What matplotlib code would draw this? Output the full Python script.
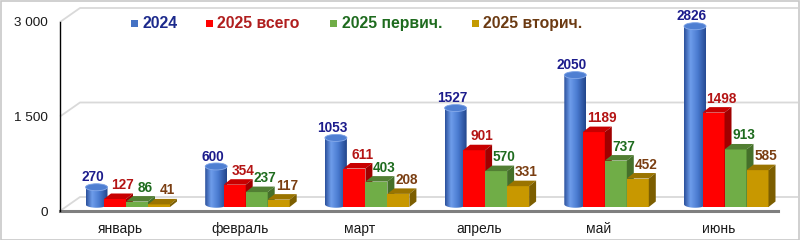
import numpy as np
import matplotlib
matplotlib.use('Agg')
import matplotlib.pyplot as plt
from matplotlib.patches import Polygon, Rectangle, Ellipse
from matplotlib.colors import LinearSegmentedColormap

# ---------------- data ----------------
months = ['январь', 'февраль', 'март', 'апрель', 'май', 'июнь']
series_names = ['2024', '2025 всего', '2025 первич.', '2025 вторич.']
v2024 = [270, 600, 1053, 1527, 2050, 2826]
v2025_total = [127, 354, 611, 901, 1189, 1498]
v2025_primary = [86, 237, 403, 570, 737, 913]
v2025_secondary = [41, 117, 208, 331, 452, 585]
y_ticks = [0, 1500, 3000]
y_tick_labels = ['0', '1 500', '3 000']

plt.rcParams['font.family'] = ['Liberation Sans', 'DejaVu Sans']
LABEL_SIZE = 9.8

W, H = 800, 240
fig = plt.figure(figsize=(8, 2.4), dpi=100)
fig.patch.set_facecolor('white')
ax = fig.add_axes([0, 0, 1, 1])
ax.set_axis_off()
ax.set_autoscale_on(False)

# pixel geometry of the pseudo-3D frame
X0, SX = 120.0, 119.7   # px of first category centre, px per category
Y0, SY = 207.0, 0.063   # px (from top) of bar base plane, px per value unit
XLIM = (-X0 / SX, (W - X0) / SX)
YLIM = ((Y0 - H) / SY, Y0 / SY)
ax.set_xlim(*XLIM)
ax.set_ylim(*YLIM)


def px_x(p):
    return (p - X0) / SX


def py(p):
    return (Y0 - p) / SY


def dx(p):
    return p / SX


def dy(p):
    return p / SY


front_off = py(211)   # value 0 on the front axis
back_off = py(197)    # value 0 on the back wall

# back wall / side wall grid
for t in y_ticks:
    ax.plot([px_x(60), px_x(80), px_x(798)],
            [t + front_off, t + back_off, t + back_off],
            color='#D9D9D9', lw=1.3, zorder=1, solid_capstyle='butt')
# floor front edge and y axis
ax.plot([px_x(60), px_x(778)], [front_off, front_off], color='#7F7F7F', lw=2.2, zorder=2)
ax.plot([px_x(60), px_x(60)], [front_off, y_ticks[-1] + front_off], color='black', lw=1.0, zorder=2)

for t, lab in zip(y_ticks, y_tick_labels):
    ax.text(px_x(48), t + front_off - dy(4.5), lab, ha='right', va='baseline',
            fontsize=9.7, color='#1A1A1A')

for i, m in enumerate(months):
    ax.text(i, py(233), m, ha='center', va='baseline', fontsize=10, color='#1A1A1A')

# ---------------- bars ----------------
BW = 22.0                     # bar width px
slot_off = [-27, -5, 17, 39]  # slot centres relative to category, px
DDX, DDY = 7.0, 5.5           # bar depth projection, px
idx = np.arange(len(months))

# 2024 cylinders
blue_cmap = LinearSegmentedColormap.from_list(
    'cyl', [(0, '#2A4F9A'), (0.28, '#6E9DEB'), (0.6, '#4A7BD0'), (1, '#21448A')])
grad = np.linspace(0, 1, 256).reshape(1, -1)
rx = dx(BW) / 2
ry = dy(7) / 2
for i, v in zip(idx, v2024):
    cx = i + dx(slot_off[0] + DDX / 2)
    yb = dy(DDY / 2)
    yt = v + dy(DDY / 2)
    th1 = np.linspace(np.pi, 2 * np.pi, 60)
    th2 = np.linspace(0, np.pi, 60)
    xs = np.concatenate([cx + rx * np.cos(th1), cx + rx * np.cos(th2)])
    ys = np.concatenate([yb + ry * np.sin(th1), yt + ry * np.sin(th2)])
    poly = Polygon(np.column_stack([xs, ys]), closed=True, transform=ax.transData,
                   fc='none', ec='none')
    ax.add_patch(poly)
    im = ax.imshow(grad, cmap=blue_cmap, extent=[cx - rx, cx + rx, yb - ry, yt + ry],
                   aspect='auto', zorder=10, interpolation='bilinear')
    im.set_clip_path(poly)
    ax.add_patch(Ellipse((cx, yt), 2 * rx, 2 * ry, facecolor='#4F7FD2',
                         edgecolor='#86AAEA', lw=0.6, zorder=10.5))

# 2025 boxes
box_series = [v2025_total, v2025_primary, v2025_secondary]
front_cols = ['#FF0000', '#70AD47', '#C89800']
top_cols = ['#C80000', '#527F33', '#9A7400']
side_cols = ['#A00000', '#45702A', '#7C5E00']
for k, (vals, fc, tc, sc) in enumerate(zip(box_series, front_cols, top_cols, side_cols), start=1):
    xs = idx + dx(slot_off[k])
    z = 10 + k
    ax.bar(xs, vals, width=dx(BW), color=fc, zorder=z, linewidth=0)
    for x, v in zip(xs, vals):
        x0, x1 = x - dx(BW) / 2, x + dx(BW) / 2
        ax.add_patch(Polygon([(x0, v), (x1, v), (x1 + dx(DDX), v + dy(DDY)),
                              (x0 + dx(DDX), v + dy(DDY))], closed=True,
                             fc=tc, ec='none', zorder=z))
        ax.add_patch(Polygon([(x1, 0), (x1, v), (x1 + dx(DDX), v + dy(DDY)),
                              (x1 + dx(DDX), dy(DDY))], closed=True,
                             fc=sc, ec='none', zorder=z))

# data labels
label_cols = ['#1C1C8C', '#B41414', '#1E6B1E', '#7A3E12']
all_series = [v2024] + box_series
for k, vals in enumerate(all_series):
    for i, v in zip(idx, vals):
        if k == 0:
            x, y = i + dx(slot_off[0]), v + dy(8.5)
        else:
            x, y = i + dx(slot_off[k] + 8), v + dy(10)
        ax.text(x, y, f'{v}', ha='center', va='baseline', fontsize=LABEL_SIZE,
                fontweight='bold', color=label_cols[k], zorder=20)

# legend
leg_sq_x = [131, 205.5, 330, 471.5]
leg_tx_x = [142.5, 217.5, 342, 483]
leg_sq_cols = ['#4472C4', '#FF0000', '#70AD47', '#C49A00']
leg_tx_cols = ['#1C2A8C', '#B01E1E', '#1E6B1E', '#6B3A12']
for sx, tx, sc, tc, name in zip(leg_sq_x, leg_tx_x, leg_sq_cols, leg_tx_cols, series_names):
    fig.patches.append(Rectangle((sx / W, 1 - 26.5 / H), 7 / W, 7 / H,
                                 transform=fig.transFigure, fc=sc, ec='none'))
    fig.text(tx / W, 1 - 28.3 / H, name, ha='left', va='baseline', fontsize=11.3,
             fontweight='bold', color=tc)

# outer border
fig.patches.append(Rectangle((0.5 / W, 0.5 / H), 1 - 1.5 / W, 1 - 1.5 / H,
                             transform=fig.transFigure, fill=False, ec='#C8C8C8', lw=1.2))

ax.set_xlim(*XLIM)
ax.set_ylim(*YLIM)
fig.savefig('out.png', dpi=100)
